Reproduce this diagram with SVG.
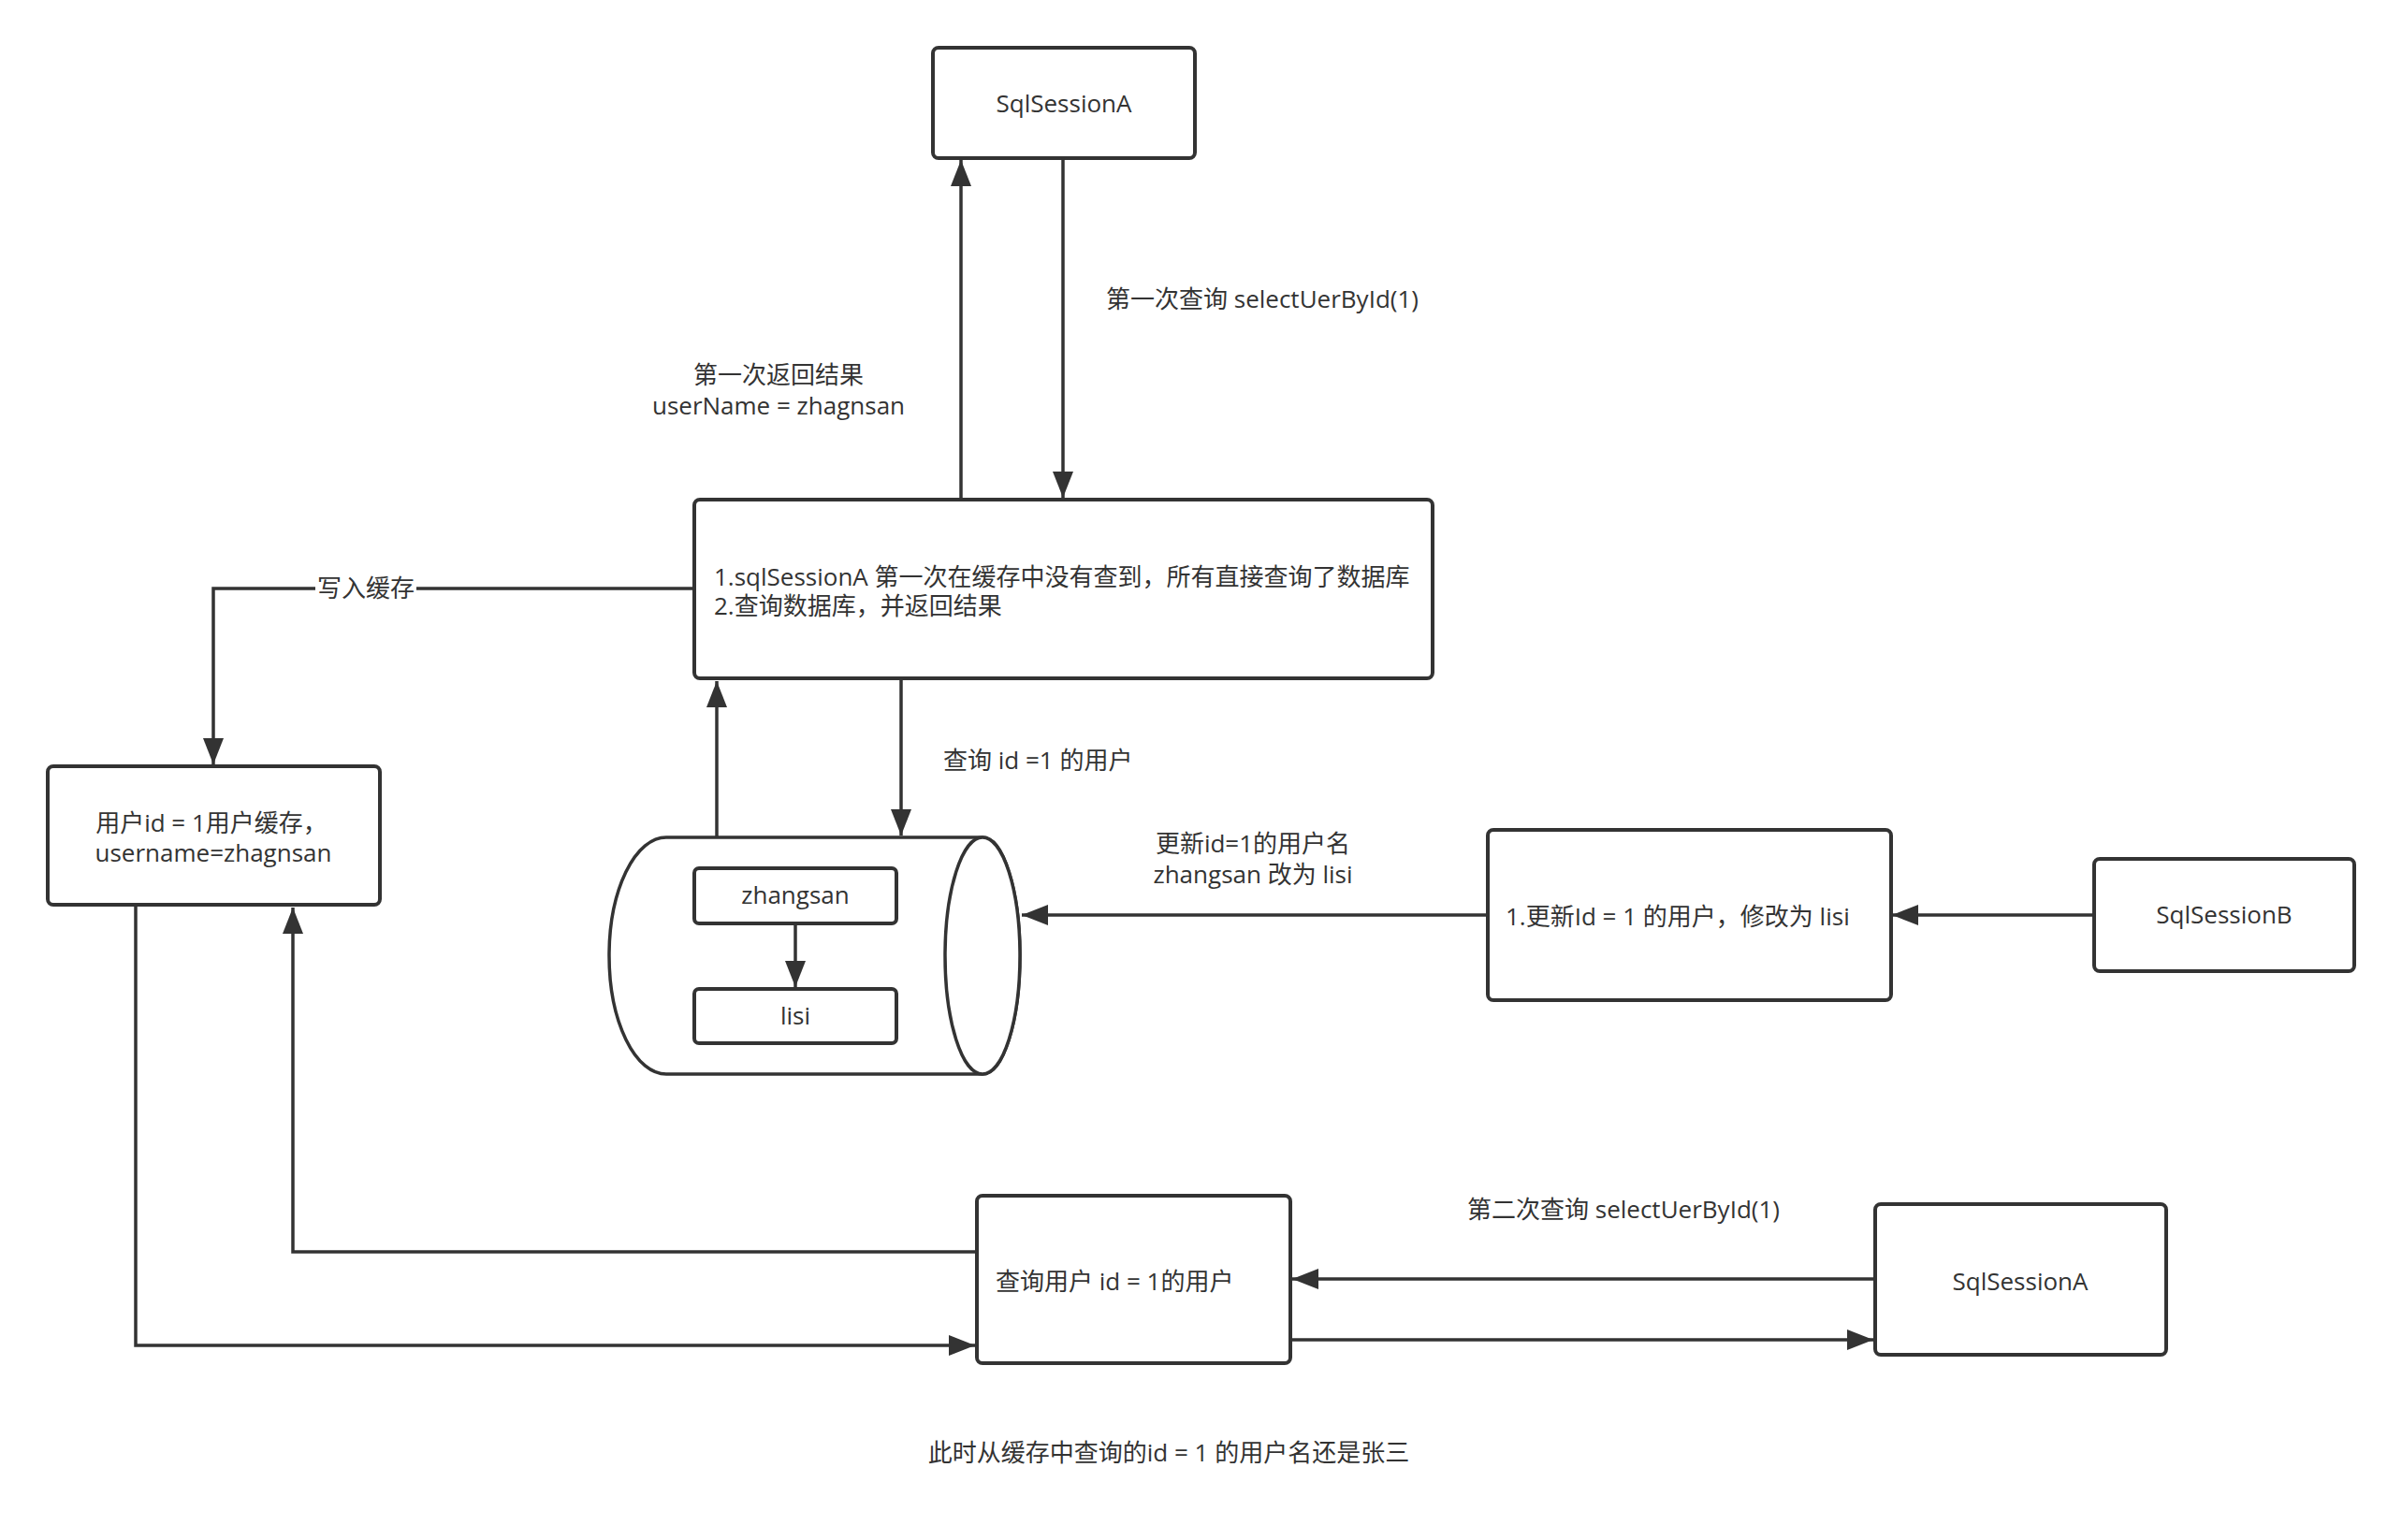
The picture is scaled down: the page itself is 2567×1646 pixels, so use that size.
<svg xmlns="http://www.w3.org/2000/svg" width="2567" height="1646" viewBox="0 0 2567 1646">
<defs>
<style>
.box{fill:#fff;stroke:#333;stroke-width:4}
.cyl{fill:#fff;stroke:#333;stroke-width:3.5}
.ln{fill:none;stroke:#333;stroke-width:3.5}
.t{font-family:"Open Sans","Noto Sans CJK SC",sans-serif;font-size:26px;fill:#333}
.m{text-anchor:middle}
</style>
<marker id="arr" markerUnits="userSpaceOnUse" markerWidth="28" markerHeight="22" refX="28" refY="11" orient="auto">
<path d="M0,0 L28,11 L0,22 Z" fill="#333"/>
</marker>
</defs>
<rect width="2567" height="1646" fill="#fff"/>

<g id="sqlSessionA-top">
<rect class="box" x="997" y="51" width="280" height="118" rx="6"/>
<text class="t m" x="1137" y="120">SqlSessionA</text>
</g>

<g id="main-box">
<rect class="box" x="742" y="534" width="789" height="191" rx="6"/>
<text class="t" x="763" y="626">1.sqlSessionA 第一次在缓存中没有查到，所有直接查询了数据库</text>
<text class="t" x="763" y="657">2.查询数据库，并返回结果</text>
</g>

<g id="cache-box">
<rect class="box" x="51" y="819" width="355" height="148" rx="6"/>
<text class="t m" x="226" y="889">用户id = 1用户缓存，</text>
<text class="t m" x="228" y="921">username=zhagnsan</text>
</g>

<g id="database">
<path class="cyl" d="M712,895 L1050,895 A40,126.5 0 0 1 1050,1148 L712,1148 A61,126.5 0 0 1 712,895 Z"/>
<ellipse class="cyl" cx="1050" cy="1021.5" rx="40" ry="126.5"/>
<g id="zhangsan">
<rect class="box" x="742" y="928" width="216" height="59" rx="5"/>
<text class="t m" x="850" y="966">zhangsan</text>
</g>
<g id="lisi">
<rect class="box" x="742" y="1057" width="216" height="58" rx="5"/>
<text class="t m" x="850" y="1095">lisi</text>
</g>
</g>

<g id="update-box">
<rect class="box" x="1590" y="887" width="431" height="182" rx="6"/>
<text class="t" x="1609" y="989">1.更新Id = 1 的用户，修改为 lisi</text>
</g>

<g id="sqlSessionB">
<rect class="box" x="2238" y="918" width="278" height="120" rx="6"/>
<text class="t m" x="2377" y="987">SqlSessionB</text>
</g>

<g id="query-box">
<rect class="box" x="1044" y="1278" width="335" height="179" rx="6"/>
<text class="t" x="1064" y="1379">查询用户 id = 1的用户</text>
</g>

<g id="sqlSessionA-bottom">
<rect class="box" x="2004" y="1287" width="311" height="161" rx="6"/>
<text class="t m" x="2159" y="1379">SqlSessionA</text>
</g>

<g id="note">
<text class="t m" x="1249" y="1562">此时从缓存中查询的id = 1 的用户名还是张三</text>
</g>

<g id="connectors">
<path class="ln" d="M1136,169 L1136,532" marker-end="url(#arr)"/>
<path class="ln" d="M1027,534 L1027,171" marker-end="url(#arr)"/>
<path class="ln" d="M742,629 L228,629 L228,817" marker-end="url(#arr)"/>
<path class="ln" d="M963,726 L963,893" marker-end="url(#arr)"/>
<path class="ln" d="M766,895 L766,728" marker-end="url(#arr)"/>
<path class="ln" d="M850,987 L850,1055" marker-end="url(#arr)"/>
<path class="ln" d="M1590,978 L1092,978" marker-end="url(#arr)"/>
<path class="ln" d="M2239,978 L2022,978" marker-end="url(#arr)"/>
<path class="ln" d="M145,968 L145,1438 L1042,1438" marker-end="url(#arr)"/>
<path class="ln" d="M1044,1338 L313,1338 L313,970" marker-end="url(#arr)"/>
<path class="ln" d="M2004,1367 L1381,1367" marker-end="url(#arr)"/>
<path class="ln" d="M1379,1432 L2002,1432" marker-end="url(#arr)"/>
<rect x="337" y="612" width="108" height="34" fill="#fff"/>
<text class="t m" x="391" y="638">写入缓存</text>
<text class="t" x="1182" y="329">第一次查询 selectUerById(1)</text>
<text class="t m" x="832" y="410">第一次返回结果</text>
<text class="t m" x="832" y="443">userName = zhagnsan</text>
<text class="t" x="1008" y="822">查询 id =1 的用户</text>
<text class="t m" x="1339" y="911">更新id=1的用户名</text>
<text class="t m" x="1339" y="944">zhangsan 改为 lisi</text>
<text class="t" x="1568" y="1302">第二次查询 selectUerById(1)</text>
</g>
</svg>
